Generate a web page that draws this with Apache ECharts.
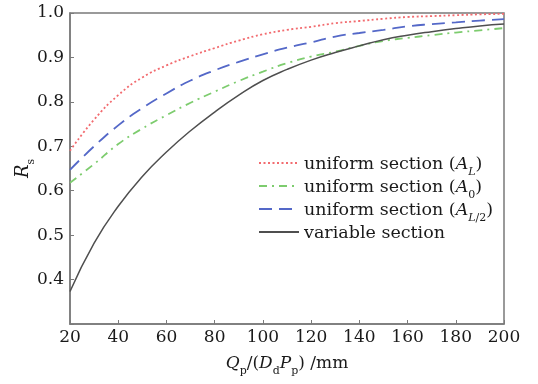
<!DOCTYPE html>
<html><head><meta charset="utf-8">
<script src="https://cdn.jsdelivr.net/npm/echarts@6/dist/echarts.min.js"></script>
<style>html,body{margin:0;padding:0;background:#fff}#c{width:538px;height:384px}</style>
</head><body><div id="c"></div>
<script>
const xValues = [20,30,40,50,60,70,80,90,100,110,120,130,140,150,160,170,180,190,200];
const uniformAL = [0.690,0.760,0.815,0.855,0.882,0.903,0.921,0.938,0.952,0.962,0.969,0.977,0.982,0.987,0.991,0.993,0.995,0.997,0.998];
const uniformA0 = [0.618,0.660,0.705,0.740,0.770,0.798,0.823,0.847,0.868,0.887,0.902,0.913,0.926,0.937,0.944,0.950,0.956,0.961,0.966];
const uniformAL2 = [0.647,0.700,0.747,0.786,0.819,0.848,0.871,0.890,0.907,0.922,0.934,0.947,0.955,0.962,0.970,0.975,0.979,0.983,0.986];
const variableSec = [0.373,0.482,0.565,0.632,0.687,0.735,0.777,0.815,0.848,0.873,0.894,0.911,0.926,0.940,0.950,0.958,0.965,0.971,0.975];
const seriesNames = ['uniform section (A_L)','uniform section (A_0)','uniform section (A_L/2)','variable section'];
const xTicks = [20,40,60,80,100,120,140,160,180,200];
const yTicks = [0.4,0.5,0.6,0.7,0.8,0.9,1.0];

const FONT = 'DejaVu Serif';
const TXT = '#1a1a1a';
function pairs(ys){ return xValues.map((x,i)=>[x,ys[i]]); }

const legendLabels = {
  'uniform section (A_L)': '{t|uniform section (}{i|A}{si|L}{t|)}',
  'uniform section (A_0)': '{t|uniform section (}{i|A}{s|0}{t|)}',
  'uniform section (A_L/2)': '{t|uniform section (}{i|A}{si|L}{s|/2}{t|)}',
  'variable section': '{t|variable section}'
};
const LF = 17.5;

const chart = echarts.init(document.getElementById('c'), null, {renderer:'canvas'});
chart.setOption({
  animation:false,
  backgroundColor:'#fff',
  grid:{left:70, right:34, top:13, bottom:60, show:true, borderColor:'#7a7a7a', borderWidth:1.5, backgroundColor:'transparent', containLabel:false, outerBoundsMode:'none'},
  legend:{
    orient:'vertical', left:258, top:155, padding:0, itemWidth:40, itemHeight:10, itemGap:0,
    data:seriesNames,
    itemStyle:{opacity:0},
    formatter:n=>legendLabels[n],
    textStyle:{
      fontFamily:FONT, fontSize:LF, color:TXT,
      rich:{
        t:{fontFamily:FONT, fontSize:LF, color:TXT, lineHeight:20, verticalAlign:'bottom'},
        i:{fontFamily:FONT, fontSize:LF, fontStyle:'italic', color:TXT, lineHeight:20, verticalAlign:'bottom'},
        s:{fontFamily:FONT, fontSize:11, color:TXT, lineHeight:12, verticalAlign:'bottom', padding:[0,0,-5,0]},
        si:{fontFamily:FONT, fontSize:11, fontStyle:'italic', color:TXT, lineHeight:12, verticalAlign:'bottom', padding:[0,0,-5,0]}
      }
    }
  },
  xAxis:{
    type:'value', min:20, max:200, interval:20,
    name:'{i|Q}{s|p}{t|/(}{i|D}{s|d}{i|P}{s|p}{t|) /mm}',
    nameLocation:'middle', nameGap:28, nameMoveOverlap:false,
    nameTextStyle:{
      rich:{
        t:{fontFamily:FONT, fontSize:17, color:TXT, lineHeight:20, verticalAlign:'bottom'},
        i:{fontFamily:FONT, fontSize:17, fontStyle:'italic', color:TXT, lineHeight:20, verticalAlign:'bottom'},
        s:{fontFamily:FONT, fontSize:11, color:TXT, lineHeight:12, verticalAlign:'bottom', padding:[0,0,-5,0]}
      }
    },
    axisLine:{show:true, lineStyle:{color:'#7a7a7a', width:1.5}},
    axisTick:{show:true, inside:true, length:4, lineStyle:{color:'#7a7a7a', width:1}},
    axisLabel:{fontFamily:FONT, fontSize:17, color:TXT, margin:5,
      formatter:v=> xTicks.includes(v) ? String(v) : ''},
    splitLine:{show:false}
  },
  yAxis:{
    type:'value', min:0.3, max:1.0, interval:0.1,
    name:'{i|R}{s|s}',
    nameLocation:'middle', nameGap:38, nameRotate:90, nameMoveOverlap:false,
    nameTextStyle:{
      rich:{
        i:{fontFamily:FONT, fontSize:18, fontStyle:'italic', color:TXT, lineHeight:20, verticalAlign:'bottom'},
        s:{fontFamily:FONT, fontSize:11, color:TXT, lineHeight:12, verticalAlign:'bottom', padding:[0,0,-5,0]}
      }
    },
    axisLine:{show:true, lineStyle:{color:'#7a7a7a', width:1.5}},
    axisTick:{show:true, inside:true, length:4, lineStyle:{color:'#7a7a7a', width:1}},
    axisLabel:{fontFamily:FONT, fontSize:17, color:TXT, margin:6,
      formatter:v=>{ const r=Math.round(v*10)/10; return yTicks.some(t=>Math.abs(t-r)<1e-6) ? r.toFixed(1) : ''; }},
    splitLine:{show:false}
  },
  series:[
    {name:seriesNames[0], type:'line', smooth:true, symbol:'none', data:pairs(uniformAL),
     lineStyle:{color:'#f26b6f', width:1.8, type:[2,2.5]}, itemStyle:{color:'#f26b6f'}, z:3},
    {name:seriesNames[1], type:'line', smooth:true, symbol:'none', data:pairs(uniformA0),
     lineStyle:{color:'#7dcc6e', width:1.8, type:[8,5,2,5]}, itemStyle:{color:'#7dcc6e'}, z:2},
    {name:seriesNames[2], type:'line', smooth:true, symbol:'none', data:pairs(uniformAL2),
     lineStyle:{color:'#5468c8', width:1.8, type:[13,7]}, itemStyle:{color:'#5468c8'}, z:3},
    {name:seriesNames[3], type:'line', smooth:true, symbol:'none', data:pairs(variableSec),
     lineStyle:{color:'#4f4f4f', width:1.5, type:'solid'}, itemStyle:{color:'#4f4f4f'}, z:4}
  ]
});
</script></body></html>
